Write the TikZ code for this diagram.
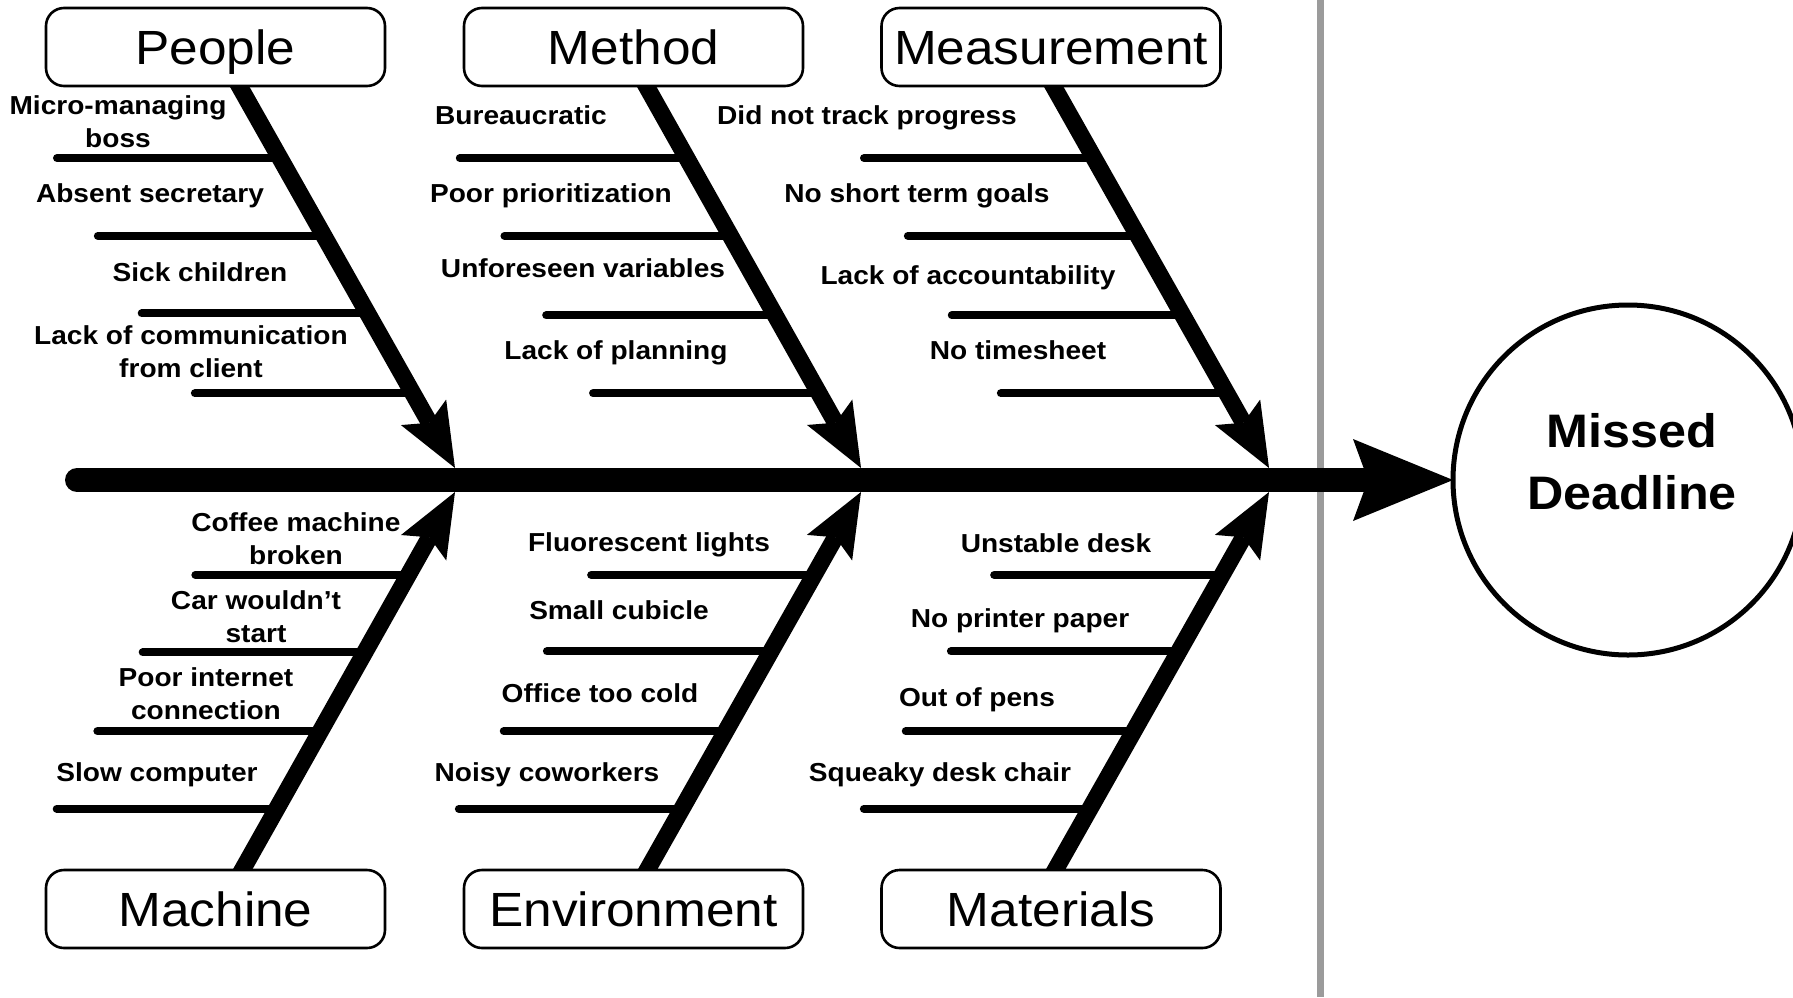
\documentclass[tikz,border=0pt]{standalone}
\usepackage{fontspec}
\setmainfont{Liberation Sans}
\newfontfamily\labfont{Liberation Sans}[FakeStretch=1.08]
\newfontfamily\catfont{Liberation Sans}[FakeStretch=1.07]
\usetikzlibrary{arrows.meta,calc}
\definecolor{divider}{RGB}{155,155,155}
\pgfdeclarelayer{background}
\pgfsetlayers{background,main}
\tikzset{
  catbox/.style={draw, fill=white, line width=1.3pt, rounded corners=9pt,
    minimum width=169.5pt, minimum height=39pt, inner sep=0pt,
    text height=17.2pt, text depth=0pt,
    font=\catfont\fontsize{24}{28}\selectfont},
  cause/.style={font=\labfont\bfseries\fontsize{13}{16.5}\selectfont,
    align=center, inner sep=0pt},
  cause1/.style={cause, text height=9.3pt, text depth=0pt},
  rib/.style={line width=4pt, line cap=round},
  bone/.style={line width=8.5pt,
    -{Stealth[length=32pt,width=26pt,inset=6pt,line width=0pt]}},
  mainbone/.style={line width=12pt, line cap=round,
    -{Stealth[length=50pt,width=41pt,inset=7.5pt,line width=0pt]}},
  goal/.style={circle, draw, line width=2.5pt, minimum size=175pt,
    inner sep=0pt, outer sep=0pt},
  goaltext/.style={font=\catfont\bfseries\fontsize{23.5}{31}\selectfont,
    align=center, inner sep=0pt},
  divline/.style={draw=divider, line width=3.5pt}
}
\newcommand{\fishribs}[3]{%
  \foreach \t/\len [count=\i] in {#3} {
    \path (#1) -- (#2) coordinate[pos=\t] (#1-r\i);
    \coordinate (#1-l\i) at ($(#1-r\i)+(-\len,0)$);
    \draw[rib] (#1-l\i) -- (#1-r\i);
  }%
}
\begin{document}
\begin{tikzpicture}[x=0.5pt, y=-0.5pt]
\useasboundingbox (0,0) rectangle (1793,997);

% category boxes
\node[catbox] (people)   at (215.5,47)  {People};
\node[catbox] (method)   at (633.5,47)  {Method};
\node[catbox] (measure)  at (1051,47)   {Measurement};
\node[catbox] (machine)  at (215.5,909) {Machine};
\node[catbox] (environ)  at (633.5,909) {Environment};
\node[catbox] (material) at (1051,909)  {Materials};

% effect
\node[goal] (goal) at (1628,480) {};
\node[goaltext] (goaltxt) at (1632,462) {Missed\\Deadline};

% spine ends
\coordinate (tail) at (77,480);
\coordinate (jPeople)   at (455,468);
\coordinate (jMethod)   at (861,468);
\coordinate (jMeasure)  at (1269,468);
\coordinate (jMachine)  at (455,492);
\coordinate (jEnviron)  at (861,492);
\coordinate (jMaterial) at (1269,492);
\coordinate (sPeople)   at ($(people.south)+(24.5,0)$);
\coordinate (sMethod)   at ($(method.south)+(13.5,0)$);
\coordinate (sMeasure)  at ($(measure.south)+(3,0)$);
\coordinate (sMachine)  at ($(machine.north)+(27.5,0)$);
\coordinate (sEnviron)  at ($(environ.north)+(14.5,0)$);
\coordinate (sMaterial) at ($(material.north)+(5,0)$);

\begin{pgfonlayer}{background}
  \fill[white] (0,0) rectangle (1793,997);
  \coordinate (divtop) at (1320,0);
  \coordinate (divbot) at (1320,997);
  \draw[divline] (divtop) -- (divbot);

  \fishribs{sPeople}{jPeople}{0.186/223,0.390/226,0.594/226,0.804/218}
  \fishribs{sMethod}{jMethod}{0.186/227,0.390/226,0.599/229,0.804/226}
  \fishribs{sMeasure}{jMeasure}{0.186/230,0.390/230,0.599/231,0.804/226}
  \fishribs{sMachine}{jMachine}{0.159/220,0.365/223,0.574/222,0.780/213}
  \fishribs{sEnviron}{jEnviron}{0.159/223,0.365/222,0.577/224,0.780/223}
  \fishribs{sMaterial}{jMaterial}{0.159/226,0.365/228,0.577/228,0.780/228}

  \draw[bone] ($(sPeople)!-0.02!(jPeople)$) -- (jPeople);
  \draw[bone] ($(sMethod)!-0.02!(jMethod)$) -- (jMethod);
  \draw[bone] ($(sMeasure)!-0.02!(jMeasure)$) -- (jMeasure);
  \draw[bone] ($(sMachine)!-0.02!(jMachine)$) -- (jMachine);
  \draw[bone] ($(sEnviron)!-0.02!(jEnviron)$) -- (jEnviron);
  \draw[bone] ($(sMaterial)!-0.02!(jMaterial)$) -- (jMaterial);

  \draw[mainbone] (tail) -- (goal.west);
\end{pgfonlayer}

% People causes
\node[cause]  (c11) at (118,121.5) {Micro-managing\\boss};
\node[cause1] (c12) at (150,193)   {Absent secretary};
\node[cause1] (c13) at (200,272)   {Sick children};
\node[cause]  (c14) at (191,351.5) {Lack of communication\\from client};
% Method causes
\node[cause1] (c21) at (521,115) {Bureaucratic};
\node[cause1] (c22) at (551,193) {Poor prioritization};
\node[cause1] (c23) at (583,268) {Unforeseen variables};
\node[cause1] (c24) at (616,350) {Lack of planning};
% Measurement causes
\node[cause1] (c31) at (867,115)  {Did not track progress};
\node[cause1] (c32) at (917,193)  {No short term goals};
\node[cause1] (c33) at (968,275)  {Lack of accountability};
\node[cause1] (c34) at (1018,350) {No timesheet};
% Machine causes
\node[cause]  (c41) at (296,538.5) {Coffee machine\\broken};
\node[cause]  (c42) at (256,616.5) {Car wouldn’t\\start};
\node[cause]  (c43) at (206,693.5) {Poor internet\\connection};
\node[cause1] (c44) at (157,772)   {Slow computer};
% Environment causes
\node[cause1] (c51) at (649,542) {Fluorescent lights};
\node[cause1] (c52) at (619,610) {Small cubicle};
\node[cause1] (c53) at (600,693) {Office too cold};
\node[cause1] (c54) at (547,772) {Noisy coworkers};
% Materials causes
\node[cause1] (c61) at (1056,543) {Unstable desk};
\node[cause1] (c62) at (1020,618) {No printer paper};
\node[cause1] (c63) at (977,697)  {Out of pens};
\node[cause1] (c64) at (940,772)  {Squeaky desk chair};
\end{tikzpicture}
\end{document}
